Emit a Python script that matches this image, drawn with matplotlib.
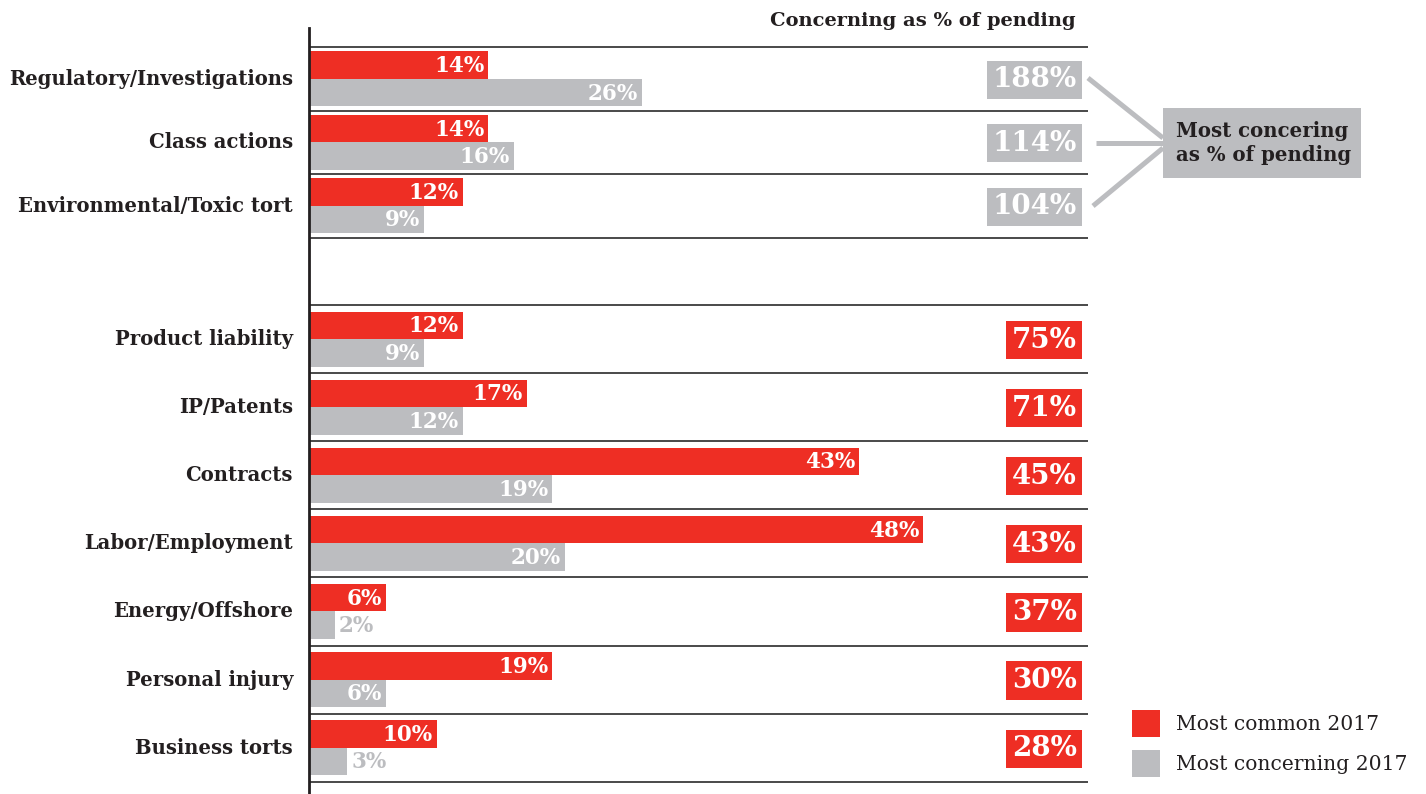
import matplotlib
matplotlib.use("Agg")
import matplotlib.pyplot as plt
from matplotlib.patches import Rectangle

# Litigation categories, top group then bottom group
upper_cats = ["Regulatory/Investigations", "Class actions", "Environmental/Toxic tort"]
lower_cats = ["Product liability", "IP/Patents", "Contracts", "Labor/Employment",
              "Energy/Offshore", "Personal injury", "Business torts"]

# Share of respondents (%)
upper_common = [14, 14, 12]
upper_concern = [26, 16, 9]
lower_common = [12, 17, 43, 48, 6, 19, 10]
lower_concern = [9, 12, 19, 20, 2, 6, 3]

# Concerning as % of pending
upper_ratio = [188, 114, 104]
lower_ratio = [75, 71, 45, 43, 37, 30, 28]

RED = "#EE2E24"
GREY = "#BCBDC0"
INK = "#231F20"
LINE = "#3a3a3a"
FONT = "DejaVu Serif"

W, H = 1426, 794
X0, X1 = 309, 1088          # left axis / right end of rules, in pixels
SCALE = 12.8                # pixels per percentage point

fig = plt.figure(figsize=(W / 100, H / 100), dpi=100)
ax = fig.add_axes([X0 / W, 0, (X1 - X0) / W, 1])
ax.set_xlim(0, (X1 - X0) / SCALE)
ax.set_ylim(H, 0)
ax.axis("off")


def px(x):
    """Figure pixel column -> data x."""
    return (x - X0) / SCALE


def draw_group(top, step, cats, common, concern, ratio, ratio_color):
    bh = 27.5
    for i, (cat, a, b, r) in enumerate(zip(cats, common, concern, ratio)):
        y_top = top + i * step
        yc = y_top + step / 2
        ax.plot([0, ax.get_xlim()[1]], [y_top, y_top], color=LINE, lw=1.3,
                solid_capstyle="butt", clip_on=False)
        ax.text(px(293), yc, cat, ha="right", va="center", fontsize=14.1,
                fontweight="bold", color=INK, family=FONT)
        for val, yb, col in ((a, yc - bh / 2, RED), (b, yc + bh / 2, GREY)):
            ax.barh(yb, val, height=bh, left=0, color=col, linewidth=0)
            if val * SCALE > 52:
                ax.text(val - 4 / SCALE, yb + 1, f"{val}%", ha="right", va="center",
                        fontsize=15.5, fontweight="bold", color="white", family=FONT)
            else:
                ax.text(val + 4 / SCALE, yb + 1, f"{val}%", ha="left", va="center",
                        fontsize=15.5, fontweight="bold", color=GREY, family=FONT)
        ax.text(px(1076.5), yc + 1, f"{r}%", ha="right", va="center",
                fontsize=20, fontweight="bold", color="white", family=FONT,
                bbox=dict(boxstyle="square,pad=0.2", fc=ratio_color, ec="none"))
    bottom = top + len(cats) * step
    ax.plot([0, ax.get_xlim()[1]], [bottom, bottom], color=LINE, lw=1.3,
            solid_capstyle="butt", clip_on=False)


draw_group(47, 63.5, upper_cats, upper_common, upper_concern, upper_ratio, GREY)
draw_group(305, 68.1, lower_cats, lower_common, lower_concern, lower_ratio, RED)

# left axis line
ax.plot([0, 0], [28, H], color=INK, lw=2, clip_on=False)

# column header
ax.text(px(1076), 21, "Concerning as % of pending", ha="right", va="center",
        fontsize=14, fontweight="bold", color=INK, family=FONT)

# callout linking the three highest ratios
for (xa, ya), (xb, yb) in (((1088, 78), (1163, 138)),
                           ((1096, 143), (1163, 143)),
                           ((1093, 206), (1163, 148))):
    ax.plot([px(xa), px(xb)], [ya, yb], color=GREY, lw=3.6,
            solid_capstyle="butt", clip_on=False)
ax.add_patch(Rectangle((px(1163), 108), 198 / SCALE, 70, fc=GREY, ec="none",
                       clip_on=False))
ax.text(px(1176), 143, "Most concering\nas % of pending", ha="left", va="center",
        fontsize=14.2, fontweight="bold", color=INK, family=FONT, linespacing=1.2)

# legend
for yl, col, lab in ((710, RED, "Most common 2017"), (750, GREY, "Most concerning 2017")):
    ax.add_patch(Rectangle((px(1132), yl), 28 / SCALE, 27, fc=col, ec="none",
                           clip_on=False))
    ax.text(px(1176), yl + 14, lab, ha="left", va="center", fontsize=14.6,
            color=INK, family=FONT)

fig.savefig("out.png", dpi=100)
